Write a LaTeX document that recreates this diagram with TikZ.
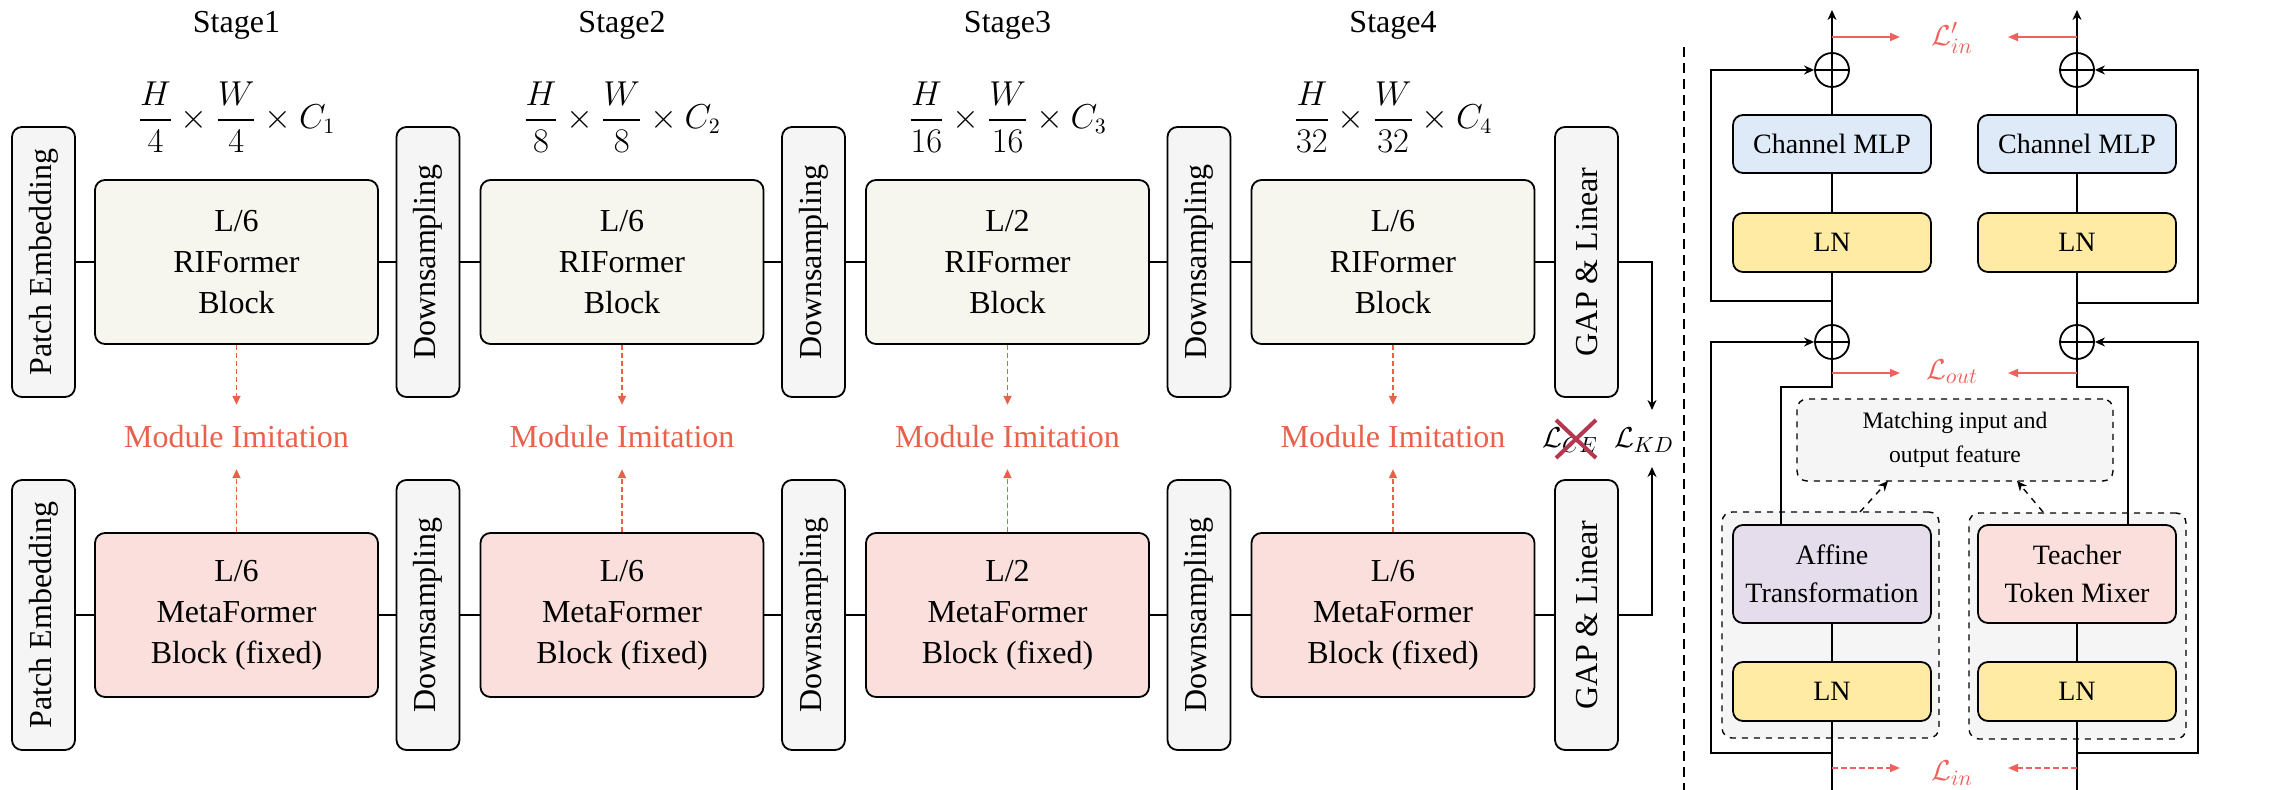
\documentclass[tikz,border=0pt]{standalone}
\usepackage{amsmath}
\usepackage{fontspec}
\usepackage{graphicx}
\setmainfont{LiberationSerif}[Extension=.ttf,UprightFont=*-Regular,BoldFont=*-Bold,ItalicFont=*-Italic,BoldItalicFont=*-BoldItalic]
\usetikzlibrary{arrows.meta}

\definecolor{rifill}{HTML}{F6F6EF}
\definecolor{mffill}{HTML}{FADFDC}
\definecolor{grayfill}{HTML}{F5F5F5}
\definecolor{mlpfill}{HTML}{DEEAF8}
\definecolor{lnfill}{HTML}{FFEBA4}
\definecolor{afffill}{HTML}{E5DDEB}
\definecolor{imitred}{HTML}{E9614B}
\definecolor{lossred}{HTML}{F0605C}
\definecolor{crossred}{HTML}{B4384F}

\newcommand{\fsbig}{\fontsize{16}{20.5}\selectfont}
\newcommand{\fsmid}{\fontsize{14}{19}\selectfont}
\newcommand{\fssmall}{\fontsize{11.8}{17}\selectfont}
\newcommand{\fsmath}{\fontsize{16}{20}\selectfont}
\newcommand{\fsloss}{\fontsize{15}{18}\selectfont}

\begin{document}
\begin{tikzpicture}[x=0.5pt,y=-0.5pt,line width=0.9pt,
  >={Stealth[length=5pt,width=4.5pt]},
  rbox/.style={draw,rounded corners=5pt,align=center,inner sep=0pt},
  sidebox/.style={rbox,fill=grayfill,minimum width=31.5pt,minimum height=135pt,font=\fsbig},
  riblock/.style={rbox,fill=rifill,minimum width=141.5pt,minimum height=82pt,font=\fsbig},
  mfblock/.style={rbox,fill=mffill,minimum width=141.5pt,minimum height=82pt,font=\fsbig},
  stagelabel/.style={font=\fsbig,anchor=base},
  shapelabel/.style={font=\fsmath},
  imitlabel/.style={font=\fsbig,text=imitred,inner sep=0pt},
  imitarrow/.style={draw=imitred,line width=0.75pt,dash pattern=on 2.5pt off 1.5pt,
    -{Triangle[length=4.5pt,width=4pt]},shorten >=10pt},
  mlpbox/.style={rbox,fill=mlpfill,minimum width=99pt,minimum height=29pt,font=\fsmid},
  lnbox/.style={rbox,fill=lnfill,minimum width=99pt,minimum height=29.5pt,font=\fsmid},
  affbox/.style={rbox,fill=afffill,minimum width=99pt,minimum height=49pt,font=\fsmid},
  tokbox/.style={rbox,fill=mffill,minimum width=99pt,minimum height=49pt,font=\fsmid},
  groupbox/.style={draw,dashed,line width=0.7pt,rounded corners=5pt,fill=grayfill,
    minimum width=108.5pt,minimum height=113pt},
  matchbox/.style={draw,dashed,line width=0.7pt,rounded corners=5pt,fill=grayfill,
    minimum width=158pt,minimum height=41pt,align=center,font=\fssmall,inner sep=0pt},
  sumnode/.style={circle,draw,minimum size=17pt,inner sep=0pt,
    path picture={\draw[line width=0.6pt]
      (path picture bounding box.west) -- (path picture bounding box.east)
      (path picture bounding box.north) -- (path picture bounding box.south);}},
  lossarrow/.style={draw=lossred,line width=0.8pt,-{Triangle[length=5pt,width=4pt]}},
  lossdash/.style={lossarrow,dash pattern=on 3pt off 1.5pt},
  losslabel/.style={text=lossred,font=\fsloss,inner sep=0pt},
  hintarrow/.style={dashed,line width=0.7pt,->}
]
\useasboundingbox (0,0) rectangle (2282,790);

% ---------------- backbone: student row and teacher row ----------------
\node[sidebox] (pe1) at (43.5,262) {\rotatebox{90}{Patch Embedding}};
\node[sidebox] (pe2) at (43.5,615) {\rotatebox{90}{Patch Embedding}};

\node[riblock] (rb1) at (236.5,262) {L/6\\RIFormer\\Block};
\node[riblock] (rb2) at (622,262)   {L/6\\RIFormer\\Block};
\node[riblock] (rb3) at (1007.5,262){L/2\\RIFormer\\Block};
\node[riblock] (rb4) at (1393,262)  {L/6\\RIFormer\\Block};

\node[mfblock] (mf1) at (236.5,615) {L/6\\MetaFormer\\Block (fixed)};
\node[mfblock] (mf2) at (622,615)   {L/6\\MetaFormer\\Block (fixed)};
\node[mfblock] (mf3) at (1007.5,615){L/2\\MetaFormer\\Block (fixed)};
\node[mfblock] (mf4) at (1393,615)  {L/6\\MetaFormer\\Block (fixed)};

\node[sidebox] (ds1a) at (428,262)    {\rotatebox{90}{Downsampling}};
\node[sidebox] (ds2a) at (813.5,262)  {\rotatebox{90}{Downsampling}};
\node[sidebox] (ds3a) at (1199,262)   {\rotatebox{90}{Downsampling}};
\node[sidebox] (ds1b) at (428,615)    {\rotatebox{90}{Downsampling}};
\node[sidebox] (ds2b) at (813.5,615)  {\rotatebox{90}{Downsampling}};
\node[sidebox] (ds3b) at (1199,615)   {\rotatebox{90}{Downsampling}};

\node[sidebox] (gap1) at (1586.5,262) {\rotatebox{90}{GAP \& Linear}};
\node[sidebox] (gap2) at (1586.5,615) {\rotatebox{90}{GAP \& Linear}};

\foreach \a/\b in {pe1/rb1,rb1/ds1a,ds1a/rb2,rb2/ds2a,ds2a/rb3,rb3/ds3a,ds3a/rb4,rb4/gap1,
                   pe2/mf1,mf1/ds1b,ds1b/mf2,mf2/ds2b,ds2b/mf3,mf3/ds3b,ds3b/mf4,mf4/gap2}
  \draw (\a) -- (\b);

% stage titles and feature sizes
\node[stagelabel] (st1) at (236.5,33) {Stage1};
\node[stagelabel] (st2) at (622,33)   {Stage2};
\node[stagelabel] (st3) at (1007.5,33){Stage3};
\node[stagelabel] (st4) at (1393,33)  {Stage4};
\node[shapelabel] (sz1) at (236.5,117) {$\dfrac{H}{4}\times\dfrac{W}{4}\times C_1$};
\node[shapelabel] (sz2) at (622,117)   {$\dfrac{H}{8}\times\dfrac{W}{8}\times C_2$};
\node[shapelabel] (sz3) at (1007.5,117){$\dfrac{H}{16}\times\dfrac{W}{16}\times C_3$};
\node[shapelabel] (sz4) at (1393,117)  {$\dfrac{H}{32}\times\dfrac{W}{32}\times C_4$};

% module imitation between the rows
\foreach \i/\x in {1/236.5,2/622,3/1007.5,4/1393}{
  \node[imitlabel] (mi\i) at (\x,437) {Module Imitation};
  \draw[imitarrow] (rb\i) -- (mi\i);
  \draw[imitarrow] (mf\i) -- (mi\i);
}

% distillation losses
\coordinate (kdT) at (1652,410);
\coordinate (kdB) at (1652,467);
\node[font=\fsloss,inner sep=0pt] (lkd) at (1644,440) {$\mathcal{L}_{KD}$};
\node[font=\fsloss,inner sep=0pt] (lce) at (1570,440) {$\mathcal{L}_{CE}$};
\draw[crossred,line width=2pt]
  ([shift={(-14,-20)}]lce.center) -- ([shift={(26,18)}]lce.center)
  ([shift={(-14,18)}]lce.center) -- ([shift={(26,-20)}]lce.center);
\draw[->] (gap1) -| (kdT);
\draw[->] (gap2) -| (kdB);

% separator
\coordinate (sepT) at (1684,47);
\coordinate (sepB) at (1684,790);
\draw[line width=0.8pt,dash pattern=on 5pt off 3pt] (sepT) -- (sepB);

% ---------------- block detail ----------------
\node[groupbox] (grpL) at (1830.5,625) {};
\node[groupbox] (grpR) at (2077.5,626) {};
\node[matchbox] (match) at (1955,440) {Matching input and\\output feature};

\node[mlpbox] (mlpL) at (1832,144) {Channel MLP};
\node[mlpbox] (mlpR) at (2077,144) {Channel MLP};
\node[lnbox] (lnTL) at (1832,242.5) {LN};
\node[lnbox] (lnTR) at (2077,242.5) {LN};
\node[affbox] (affL) at (1832,574) {Affine\\Transformation};
\node[tokbox] (tokR) at (2077,574) {Teacher\\Token Mixer};
\node[lnbox] (lnBL) at (1832,691.5) {LN};
\node[lnbox] (lnBR) at (2077,691.5) {LN};
\node[sumnode] (sumTL) at (1832,70) {};
\node[sumnode] (sumTR) at (2077,70) {};
\node[sumnode] (sumBL) at (1832,342) {};
\node[sumnode] (sumBR) at (2077,342) {};

\coordinate (inL) at (1832,790);   \coordinate (inR) at (2077,790);
\coordinate (outL) at (1832,10);   \coordinate (outR) at (2077,10);
\coordinate (tapTL) at (1832,301); \coordinate (cornTL) at (1711,70);
\coordinate (tapTR) at (2077,303); \coordinate (cornTR) at (2198,70);
\coordinate (tapBL) at (1832,753); \coordinate (cornBL) at (1711,342);
\coordinate (tapBR) at (2077,753); \coordinate (cornBR) at (2198,342);
\coordinate (bendL) at (1781,387); \coordinate (bendR) at (2128,387);

% main data paths
\draw (inL) -- (lnBL);  \draw (lnBL) -- (affL);
\draw (inR) -- (lnBR);  \draw (lnBR) -- (tokR);
\draw (affL.north -| bendL) -- (bendL) -| (sumBL);
\draw (tokR.north -| bendR) -- (bendR) -| (sumBR);
\draw (sumBL) -- (lnTL); \draw (lnTL) -- (mlpL); \draw (mlpL) -- (sumTL);
\draw (sumBR) -- (lnTR); \draw (lnTR) -- (mlpR); \draw (mlpR) -- (sumTR);
\draw[->] (sumTL) -- (outL);
\draw[->] (sumTR) -- (outR);

% residual shortcuts
\draw[->] (tapTL) -| (cornTL) -- (sumTL);
\draw[->] (tapTR) -| (cornTR) -- (sumTR);
\draw[->] (tapBL) -| (cornBL) -- (sumBL);
\draw[->] (tapBR) -| (cornBR) -- (sumBR);

% both mixers feed the matching objective
\coordinate (gL) at (1860,512); \coordinate (mL) at (1888,481);
\coordinate (gR) at (2043,512); \coordinate (mR) at (2017,481);
\draw[hintarrow] (gL) -- (mL);
\draw[hintarrow] (gR) -- (mR);

% loss terms
\node[losslabel] (linp) at (1952,38)  {$\mathcal{L}'_{in}$};
\node[losslabel] (lout) at (1952,372) {$\mathcal{L}_{out}$};
\node[losslabel] (lin)  at (1952,773) {$\mathcal{L}_{in}$};
\coordinate (a1s) at (1832,37);  \coordinate (a1e) at (1900,37);
\coordinate (a2s) at (2077,37);  \coordinate (a2e) at (2008,37);
\coordinate (b1s) at (1832,373); \coordinate (b1e) at (1900,373);
\coordinate (b2s) at (2077,373); \coordinate (b2e) at (2008,373);
\coordinate (c1s) at (1832,768); \coordinate (c1e) at (1900,768);
\coordinate (c2s) at (2077,768); \coordinate (c2e) at (2008,768);
\draw[lossarrow] (a1s) -- (a1e);
\draw[lossarrow] (a2s) -- (a2e);
\draw[lossarrow] (b1s) -- (b1e);
\draw[lossarrow] (b2s) -- (b2e);
\draw[lossdash] (c1s) -- (c1e);
\draw[lossdash] (c2s) -- (c2e);
\end{tikzpicture}
\end{document}
